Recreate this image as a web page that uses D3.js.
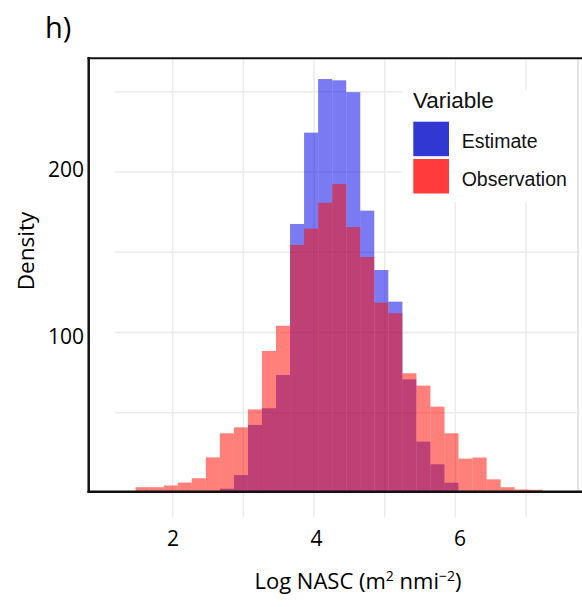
<!DOCTYPE html>
<html lang="en">
  <head>
    <meta charset="UTF-8" />
    <title>h) Log NASC histogram</title>
    <script src="https://d3js.org/d3.v7.min.js"></script>
    <style>
      body {
        margin: 0;
        padding: 0;
        background: #fff;
      }
      svg {
        display: block;
      }
    </style>
  </head>
  <body>
    <svg width="582" height="607"></svg>
    <script>
      // histogram bins (lower edge, in log NASC units)
      const binEdges = [
        1.475, 1.674, 1.872, 2.071, 2.27, 2.469, 2.667, 2.866, 3.065, 3.263,
        3.462, 3.661, 3.859, 4.058, 4.257, 4.456, 4.654, 4.853, 5.052, 5.25,
        5.449, 5.648, 5.846, 6.045, 6.244, 6.443, 6.641, 6.84, 7.039,
      ];
      const binWidth = 0.1987;

      const estimate = [
        0, 0, 0, 0, 0, 0, 2.7, 11.2, 42.4, 52.8, 73.5, 167.6, 224.5, 257.9,
        257.1, 249.7, 175.9, 138.9, 119.2, 70.8, 32, 17.9, 6.4, 0, 0, 0, 0, 0,
        0,
      ];
      const observation = [
        3.6, 3.6, 4.7, 6.5, 9.2, 22.2, 37.2, 40.9, 52.1, 88.5, 104.2, 154.5,
        164.7, 180.8, 192.5, 165.7, 147, 118.6, 112, 74.6, 66.9, 53.8, 37.2,
        21.4, 22.1, 8.5, 3.6, 2.2, 2.0,
      ];

      const series = ["Estimate", "Observation"];
      const gridX = [2, 3, 4, 5, 6, 7];
      const gridY = [50, 100, 150, 200, 250];
      const xTicks = [2, 4, 6];
      const yTicks = [100, 200];

      const svg = d3.select("svg");

      const x = d3.scaleLinear().domain([2, 7]).range([172.7, 526]);
      const y = d3.scaleLinear().domain([0, 250]).range([493, 91.7]);
      // the tick labels were pasted on a little off the grid
      const xLab = d3.scaleLinear().domain([2, 6]).range([173, 460]);
      const yLab = d3.scaleLinear().domain([100, 200]).range([336, 169]);

      const fill = d3
        .scaleOrdinal()
        .domain(series)
        .range(["rgb(0,0,232)", "rgb(255,12,0)"]);
      const keyFill = d3
        .scaleOrdinal()
        .domain(series)
        .range(["#3137d2", "#ff3b3b"]);

      // grid
      const grid = svg.append("g").attr("stroke", "#ebebeb").attr("stroke-width", 1.5);
      grid
        .selectAll("line.h")
        .data(gridY)
        .join("line")
        .attr("class", "h")
        .attr("x1", 115)
        .attr("x2", 577)
        .attr("y1", (d) => y(d))
        .attr("y2", (d) => y(d));
      grid
        .selectAll("line.v")
        .data(gridX)
        .join("line")
        .attr("class", "v")
        .attr("x1", (d) => x(d))
        .attr("x2", (d) => x(d))
        .attr("y1", 60)
        .attr("y2", 517);

      // bars: estimate first, observation on top
      const layers = [
        { key: "Estimate", values: estimate },
        { key: "Observation", values: observation },
      ];
      layers.forEach((layer) => {
        svg
          .append("g")
          .attr("fill", fill(layer.key))
          .attr("fill-opacity", 0.52)
          .selectAll("rect")
          .data(layer.values.map((v, i) => ({ lo: binEdges[i], v })))
          .join("rect")
          .attr("x", (d) => x(d.lo))
          .attr("width", (d) => x(d.lo + binWidth) - x(d.lo))
          .attr("y", (d) => y(d.v))
          .attr("height", (d) => y(0) - y(d.v));
      });

      // panel frame
      svg
        .append("line")
        .attr("x1", 578)
        .attr("x2", 578)
        .attr("y1", 58)
        .attr("y2", 492)
        .attr("stroke", "#dcdcdc")
        .attr("stroke-width", 1.5);
      const frame = svg.append("g").attr("stroke", "#111").attr("stroke-width", 2.5);
      frame.append("line").attr("x1", 88.7).attr("x2", 88.7).attr("y1", 57).attr("y2", 493);
      frame.append("line").attr("x1", 87.5).attr("x2", 582).attr("y1", 58.3).attr("y2", 58.3).attr("stroke-width", 2);
      frame.append("line").attr("x1", 87.5).attr("x2", 582).attr("y1", 491.7).attr("y2", 491.7);

      // legend
      const legend = svg.append("g");
      legend
        .append("rect")
        .attr("x", 402)
        .attr("y", 90)
        .attr("width", 175)
        .attr("height", 112)
        .attr("fill", "#fff");
      legend
        .append("text")
        .attr("x", 413)
        .attr("y", 108)
        .attr("font-family", "Liberation Sans, Arial, sans-serif")
        .attr("font-size", 22.5)
        .attr("fill", "#111")
        .text("Variable");
      const item = legend
        .selectAll("g.item")
        .data(series)
        .join("g")
        .attr("class", "item")
        .attr("transform", (d, i) => `translate(413.3,${121.7 + i * 37.3})`);
      item
        .append("rect")
        .attr("width", 35.7)
        .attr("height", 34.5)
        .attr("fill", (d) => keyFill(d));
      item
        .append("text")
        .attr("x", 48.4)
        .attr("y", 26.6)
        .attr("font-family", "Liberation Sans, Arial, sans-serif")
        .attr("font-size", 19.5)
        .attr("fill", "#111")
        .text((d) => d);

      // tick labels
      svg
        .append("g")
        .attr("font-family", "Open Sans, sans-serif")
        .attr("font-size", 21)
        .attr("fill", "#000")
        .attr("text-anchor", "middle")
        .selectAll("text")
        .data(xTicks)
        .join("text")
        .attr("x", (d) => xLab(d))
        .attr("y", 546)
        .text((d) => d);
      svg
        .append("g")
        .attr("font-family", "Open Sans, sans-serif")
        .attr("font-size", 21)
        .attr("fill", "#000")
        .attr("text-anchor", "end")
        .selectAll("text")
        .data(yTicks)
        .join("text")
        .attr("x", 84)
        .attr("y", (d) => yLab(d))
        .attr("dy", "0.36em")
        .text((d) => d);

      // titles
      svg
        .append("text")
        .attr("transform", "translate(34,251) rotate(-90)")
        .attr("text-anchor", "middle")
        .attr("font-family", "Open Sans, sans-serif")
        .attr("font-size", 22.5)
        .text("Density");

      const xt = svg
        .append("text")
        .attr("x", 358)
        .attr("y", 589)
        .attr("text-anchor", "middle")
        .attr("font-family", "Open Sans, sans-serif")
        .attr("font-size", 22);
      xt.append("tspan").text("Log NASC (m");
      xt.append("tspan").attr("dy", -8).attr("font-size", 14).text("2");
      xt.append("tspan").attr("dy", 8).text(" nmi");
      xt.append("tspan").attr("dy", -8).attr("font-size", 14).text("\u22122");
      xt.append("tspan").attr("dy", 8).text(")");

      svg
        .append("text")
        .attr("x", 45)
        .attr("y", 38)
        .attr("font-family", "Open Sans, sans-serif")
        .attr("font-size", 29)
        .text("h)");
    </script>
  </body>
</html>
